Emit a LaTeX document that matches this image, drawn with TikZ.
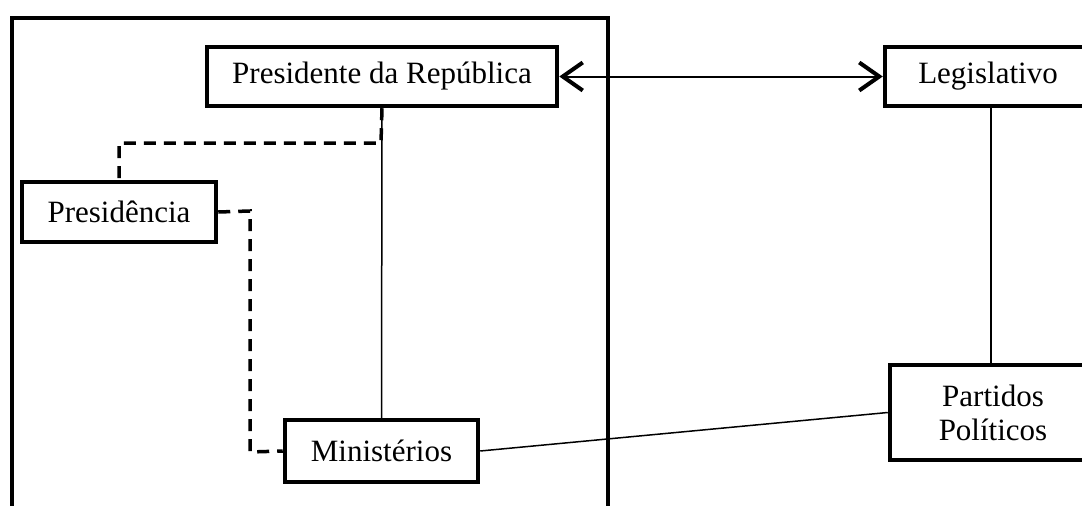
\documentclass[tikz,border=0pt]{standalone}
\usepackage{fontspec}
\setmainfont{Liberation Serif}
\usetikzlibrary{arrows.meta}
\tikzset{
  box/.style={draw, line width=4.5pt, rectangle, inner sep=0pt, fill=white, font=\fontsize{31}{34}\selectfont, align=center},
  thin/.style={line width=1.5pt},
  dashline/.style={line width=3.5pt, dash pattern=on 12pt off 8pt},
  biarrow/.style={line width=2pt, {Straight Barb[length=20pt,width=28pt,line width=4pt]}-{Straight Barb[length=20pt,width=28pt,line width=4pt]}}
}
\begin{document}
\begin{tikzpicture}[x=1pt,y=-1pt]
\useasboundingbox[fill=white] (0,0) rectangle (1082,506);
% outer frame
\draw[line width=4.5pt] (12,520) -- (12,18) -- (608,18) -- (608,520);
\node[box, minimum width=350pt, minimum height=59pt] (pres) at (382,76.5) {Presidente da República};
\node[box, minimum width=206pt, minimum height=59pt] (leg) at (988,76.5) {Legislativo};
\node[box, minimum width=194pt, minimum height=60pt] (presid) at (119,212) {Presidência};
\node[box, minimum width=193pt, minimum height=62pt] (min) at (381.5,451) {Ministérios};
\node[box, minimum width=206pt, minimum height=95pt] (part) at (993,412.5) {Partidos\\Políticos};
\coordinate (d1) at (381,143);
\coordinate (d2) at (250,211);
\coordinate (d3) at (250,452);
\draw[thin] (pres.south) -- (min.north);
\draw[thin] (leg.south -| 991,0) -- (part.north -| 991,0);
\draw[thin] (min.east) -- (part.west);
\draw[biarrow] (pres.east) -- (leg.west);
\draw[dashline] (pres.south) -- (d1) -| (presid.north);
\draw[dashline] (presid.east) -- (d2) -- (d3) -- (min.west);
\end{tikzpicture}
\end{document}
